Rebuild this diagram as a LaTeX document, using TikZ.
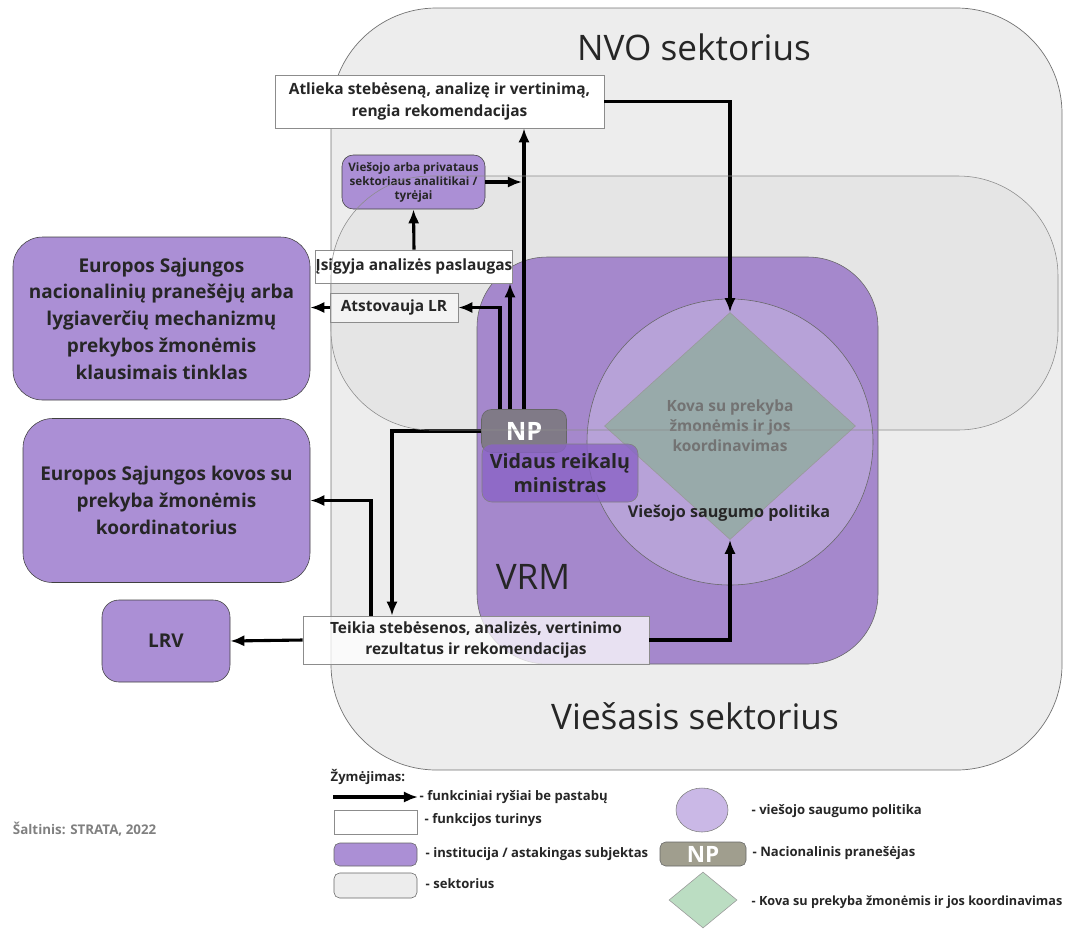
\documentclass[tikz,border=0pt]{standalone}
\usepackage{fontspec}
\setmainfont{Open Sans}
\usepackage{xcolor}
\usetikzlibrary{shapes.geometric,arrows.meta}

\definecolor{sectorgray}{RGB}{237,237,237}
\definecolor{sectordark}{RGB}{229,229,229}
\definecolor{instpurple}{RGB}{171,143,213}
\definecolor{vrmpurple}{RGB}{165,136,204}
\definecolor{vrmdark}{RGB}{138,99,198}
\definecolor{circpurple}{RGB}{183,162,216}
\definecolor{kovagray}{RGB}{152,170,170}
\definecolor{npgray}{RGB}{124,121,128}
\definecolor{atstgray}{RGB}{243,243,243}
\definecolor{legpurple}{RGB}{202,184,230}
\definecolor{legnpgray}{RGB}{160,158,142}
\definecolor{leggreen}{RGB}{187,221,194}

\def\pxu{0.025cm}

\tikzset{
  sector/.style={draw=black!55, line width=0.5pt},
  inst/.style={draw=black!75, fill=instpurple, rounded corners=21pt, align=center,
    text=black!85, font=\fontsize{13.5}{19}\selectfont\bfseries},
  func/.style={draw=black!45, fill=white, align=center, inner sep=0pt,
    text=black!85, font=\fontsize{11}{15.5}\selectfont\bfseries},
  arr/.style={->, >={Latex[length=10pt, width=8pt]}, line width=2.2pt},
  legtxt/.style={anchor=west, inner sep=1pt, text=black!85, font=\fontsize{9.3}{11}\selectfont\bfseries},
  title/.style={text=black!85, font=\fontsize{25}{28}\selectfont},
}

\begin{document}
\begin{tikzpicture}[x=\pxu, y=-\pxu]
\useasboundingbox (0,0) rectangle (1066,929);

% sectors
\draw[sector, fill=sectorgray, rounded corners=75pt] (331,8) rectangle (1062,770);
\fill[sectordark, rounded corners=71pt] (331,176) rectangle (1058,430);
\node[title] (nvo) at (694,47) {NVO sektorius};
\node[title] (viesasis) at (695,716) {Viešasis sektorius};

% left institutions
\node[inst, minimum width=297*\pxu, minimum height=163*\pxu] (eunet) at (161.5,318.5)
  {Europos Sąjungos\\nacionalinių pranešėjų arba\\lygiaverčių mechanizmų\\prekybos žmonėmis\\klausimais tinklas};
\node[inst, minimum width=287*\pxu, minimum height=164*\pxu] (eucoord) at (166.5,500.5)
  {Europos Sąjungos kovos su\\prekyba žmonėmis\\koordinatorius};
\node[inst, rounded corners=12pt, minimum width=128*\pxu, minimum height=82*\pxu] (lrv) at (166,641) {LRV};

% VRM
\node[draw=black!60, fill=vrmpurple, rounded corners=50pt, minimum width=401*\pxu, minimum height=407*\pxu] (vrm) at (677.5,460.5) {};
\node[title] (vrmlbl) at (533,577) {VRM};
\node[circle, draw=black!60, fill=circpurple, minimum size=286*\pxu, inner sep=0pt] (vsp) at (730,442) {};
\node[diamond, draw=black!40, fill=kovagray, aspect=1.1, minimum width=251*\pxu, minimum height=227*\pxu,
  inner sep=0pt, align=center, text=black!55, font=\fontsize{11}{14.2}\selectfont\bfseries] (kova) at (730,426)
  {Kova su prekyba\\žmonėmis ir jos\\koordinavimas};
\node[text=black!85, font=\fontsize{11.5}{14}\selectfont\bfseries] (vsptxt) at (729,513) {Viešojo saugumo politika};

\node[draw=black!60, fill=npgray, fill opacity=.9, text opacity=1, rounded corners=7pt, text=white,
  minimum width=85*\pxu, minimum height=43*\pxu, font=\fontsize{18}{18}\selectfont\bfseries] (np) at (524,431) {NP};
\node[draw=black!50, fill=vrmdark, fill opacity=.8, text opacity=1, rounded corners=7pt, align=center,
  minimum width=156*\pxu, minimum height=58*\pxu, text=black!85, font=\fontsize{14}{17.5}\selectfont\bfseries] (vrmin) at (560,473)
  {Vidaus reikalų\\ministras};

% functions
\node[func, minimum width=329*\pxu, minimum height=53*\pxu] (atlieka) at (439.5,101.5)
  {Atlieka stebėseną, analizę ir vertinimą,\\rengia rekomendacijas};
\node[inst, rounded corners=8pt, minimum width=143*\pxu, minimum height=54*\pxu, inner sep=0pt,
  font=\fontsize{8.3}{10}\selectfont\bfseries] (analitikai) at (413.5,182)
  {Viešojo arba privataus\\sektoriaus analitikai /\\tyrėjai};
\node[func, minimum width=194*\pxu, minimum height=33*\pxu] (isigyja) at (414,266.5) {Įsigyja analizės paslaugas};
\node[func, fill=atstgray, minimum width=128*\pxu, minimum height=29*\pxu] (atstovauja) at (394,307.5) {Atstovauja LR};
\node[func, fill opacity=.75, text opacity=1, minimum width=346*\pxu, minimum height=48*\pxu] (teikia) at (476,640)
  {Teikia stebėsenos, analizės, vertinimo\\rezultatus ir rekomendacijas};

% links
\draw[arr] (atlieka.east) -| (kova.north);
\draw[arr] (np.north -| 500,0) |- (atstovauja.east);
\draw[arr] (np.north -| 510,0) -- (isigyja.south -| 510,0);
\draw[arr] (np.north -| 524,0) -- (atlieka.south -| 524,0);
\draw[arr] (analitikai.east) -- (analitikai.east -| 522,0);
\draw[arr] (isigyja.north) -- (analitikai.south);
\draw[arr] (atstovauja.west) -- (eunet.east |- atstovauja.west);
\draw[arr] (np.west) -| (teikia.north -| 392,0);
\draw[arr] (teikia.north -| 371,0) |- (eucoord.east);
\draw[arr] (teikia.west) -- (lrv.east);
\draw[arr] (teikia.east) -| (kova.south);

\draw[sector, draw=black!45, line width=0.4pt, rounded corners=71pt] (331,176) rectangle (1058,430);

% legend
\node[legtxt] (legtitle) at (329,777) {Žymėjimas:};
\coordinate (legstart) at (333,797);
\node[legtxt] (leg1) at (418,797) {- funkciniai ryšiai be pastabų};
\draw[arr] (legstart) -- (leg1.west);
\node[draw=black!45, fill=white, minimum width=83*\pxu, minimum height=24*\pxu] (legfunc) at (375.5,822) {};
\node[legtxt] (leg2) at (423,820) {- funkcijos turinys};
\node[draw=black!60, fill=instpurple, rounded corners=4pt, minimum width=83*\pxu, minimum height=23*\pxu] (leginst) at (375.5,854.5) {};
\node[legtxt] (leg3) at (424,854) {- institucija / astakingas subjektas};
\node[draw=black!60, fill=sectorgray, rounded corners=4pt, minimum width=83*\pxu, minimum height=25*\pxu] (legsect) at (375.5,885.5) {};
\node[legtxt] (leg4) at (424,884) {- sektorius};

\node[ellipse, draw=black!50, fill=legpurple, minimum width=52*\pxu, minimum height=44*\pxu] (legvsp) at (702,810) {};
\node[legtxt] (leg5) at (750,811) {- viešojo saugumo politika};
\node[draw=black!60, fill=legnpgray, rounded corners=4pt, minimum width=86*\pxu, minimum height=24*\pxu, inner sep=0pt,
  text=white, font=\fontsize{16}{16}\selectfont\bfseries] (legnp) at (703,854) {NP};
\node[legtxt] (leg6) at (751,853) {- Nacionalinis pranešėjas};
\node[diamond, draw=black!40, fill=leggreen, minimum width=68*\pxu, minimum height=56*\pxu, inner sep=0pt] (legkova) at (703,900) {};
\node[legtxt, font=\fontsize{9}{11}\selectfont\bfseries] (leg7) at (750,902) {- Kova su prekyba žmonėmis ir jos koordinavimas};

\node[anchor=west, text=black!50, font=\fontsize{9.5}{11}\selectfont\bfseries] (saltinis) at (8,829) {Šaltinis: STRATA, 2022};
\end{tikzpicture}
\end{document}
